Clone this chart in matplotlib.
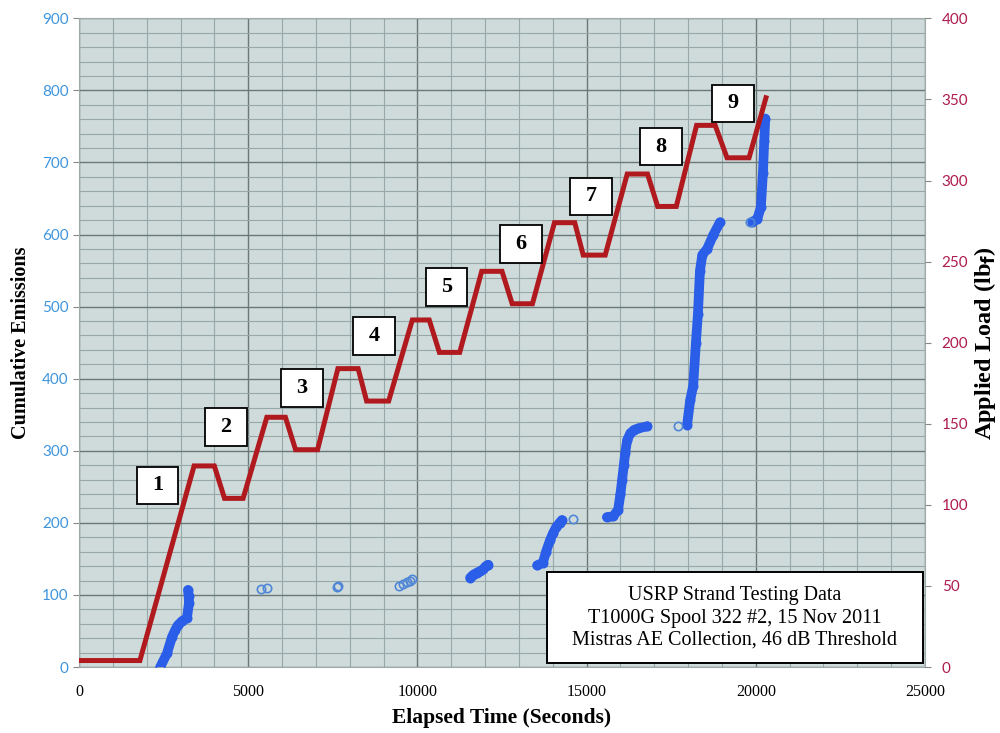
import matplotlib.pyplot as plt
from matplotlib.patches import Rectangle
from matplotlib.ticker import MultipleLocator

# applied load (lbf) vs elapsed time (s)
load_t = [0, 1800, 3400, 4000, 4300, 4850, 5550, 6100, 6400, 7050,
          7650, 8250, 8500, 9150, 9850, 10350, 10650, 11250, 11900, 12500,
          12800, 13400, 14050, 14650, 14900, 15550, 16200, 16800, 17100, 17650,
          18250, 18800, 19150, 19800, 20300]
load_lbf = [4, 4, 124, 124, 104, 104, 154, 154, 134, 134,
            184, 184, 164, 164, 214, 214, 194, 194, 244, 244,
            224, 224, 274, 274, 254, 254, 304, 304, 284, 284,
            334, 334, 314, 314, 351]

# cumulative emissions, dense bursts
burst_t = [
    [2400, 2600, 2750, 2850, 2920, 3050, 3190, 3250, 3240, 3220],
    [11560, 11650, 11760, 11850, 11950, 12020, 12090],
    [13540, 13710, 13800, 13920, 14010, 14100, 14200, 14270],
    [15600, 15780, 15930, 16000, 16050, 16100, 16140, 16200, 16290, 16400, 16520, 16790],
    [17970, 18060, 18150, 18230, 18290, 18350, 18420, 18560, 18750, 18940],
    [19900, 20040, 20150, 20210, 20250, 20280],
]
burst_n = [
    [0, 19, 42, 52, 58, 64, 68, 89, 98, 107],
    [124, 128, 131, 133, 136, 140, 142],
    [141, 145, 160, 176, 186, 194, 200, 204],
    [208, 209, 218, 240, 260, 280, 297, 315, 324, 329, 331, 334],
    [336, 370, 390, 450, 490, 550, 572, 580, 600, 617],
    [618, 621, 638, 685, 730, 761],
]
# isolated emissions
iso_t = [5380, 5550, 7610, 7640, 9450, 9560, 9680, 9780, 9840, 14600, 17690, 19830]
iso_n = [108, 109, 111, 112, 113, 115, 118, 120, 122, 205, 335, 617]

# load step labels
step_labels = ['1', '2', '3', '4', '5', '6', '7', '8', '9']
step_t = [2330, 4340, 6590, 8720, 10850, 13060, 15130, 17200, 19330]
step_y = [252, 333, 387, 459, 527, 587, 653, 722, 782]

fig = plt.figure(figsize=(10, 7.33), dpi=100)
ax = fig.add_axes([0.079, 0.09, 0.846, 0.885])
ax.set_facecolor('#cfdbdb')
ax.set_xlim(0, 25000)
ax.set_ylim(0, 900)
ax.xaxis.set_major_locator(MultipleLocator(5000))
ax.xaxis.set_minor_locator(MultipleLocator(1000))
ax.yaxis.set_major_locator(MultipleLocator(100))
ax.yaxis.set_minor_locator(MultipleLocator(20))
ax.grid(which='major', color='#6b7878', lw=1.0)
ax.grid(which='minor', color='#98a8a8', lw=0.8)
ax.set_axisbelow(True)
for s in ax.spines.values():
    s.set_color('#a0aaaa')
    s.set_linewidth(0.8)

blue = '#2a5ee8'
for t, n in zip(burst_t, burst_n):
    ax.plot(t, n, color=blue, lw=7, solid_capstyle='round', solid_joinstyle='round', zorder=3)
    ax.plot(t, n, 'o', ms=6, mfc='none', mec=blue, mew=1.2, zorder=3)
ax.plot(iso_t, iso_n, 'o', ms=6, mfc='none', mec='#4f86d6', mew=1.2, zorder=3)

ax.tick_params(axis='y', which='major', colors='#3f95dd', labelsize=11, length=4,
               labelfontfamily='Lato')
ax.tick_params(axis='y', which='minor', length=0)
ax.tick_params(axis='x', which='major', labelsize=11.5, length=0, pad=12,
               labelfontfamily='Liberation Serif')
ax.tick_params(axis='x', which='minor', length=0)
ax.tick_params(axis='y', which='major', color='#888888')
ax.set_xlabel('Elapsed Time (Seconds)', fontsize=15.5, fontweight='bold',
              family='Liberation Serif', labelpad=6)
ax.set_ylabel('Cumulative Emissions', fontsize=14.5, fontweight='bold',
              family='Liberation Serif', labelpad=8)

ax2 = ax.twinx()
ax2.set_ylim(0, 400)
ax2.yaxis.set_major_locator(MultipleLocator(50))
for s in ax2.spines.values():
    s.set_visible(False)
ax2.plot(load_t, load_lbf, color='#b01a1f', lw=3.6, solid_joinstyle='miter', zorder=4)
ax2.tick_params(axis='y', colors='#ad1b4f', labelsize=11, length=4, pad=8,
                labelfontfamily='Lato')
ax2.tick_params(axis='y', color='#888888')
ax2.set_ylabel('Applied Load (lb$_\\mathbf{f}$)', fontsize=17.5, fontweight='bold',
               family='Liberation Serif', labelpad=3)

# step number boxes (left-axis data coords, drawn over the load line)
for lab, t, y in zip(step_labels, step_t, step_y):
    ax2.add_patch(Rectangle((t - 610, y - 26), 1220, 52, transform=ax.transData,
                            facecolor='white', edgecolor='black', lw=1.3, zorder=6,
                            clip_on=False))
    ax2.text(t, y, lab, transform=ax.transData, ha='center', va='center', fontsize=16,
             fontweight='bold', family='Liberation Serif', zorder=7)

# info box
fig.patches.append(Rectangle((0.547, 1 - 663 / 733), 0.376, 91 / 733,
                             transform=fig.transFigure, facecolor='white',
                             edgecolor='black', lw=1.4, zorder=10))
info = ('USRP Strand Testing Data\n'
        'T1000G Spool 322 #2, 15 Nov 2011\n'
        'Mistras AE Collection, 46 dB Threshold')
fig.text(0.735, 1 - 618 / 733, info, ha='center', va='center', fontsize=14.5,
         family='Liberation Serif', linespacing=1.25, zorder=11)

fig.savefig('out.png', dpi=100)
